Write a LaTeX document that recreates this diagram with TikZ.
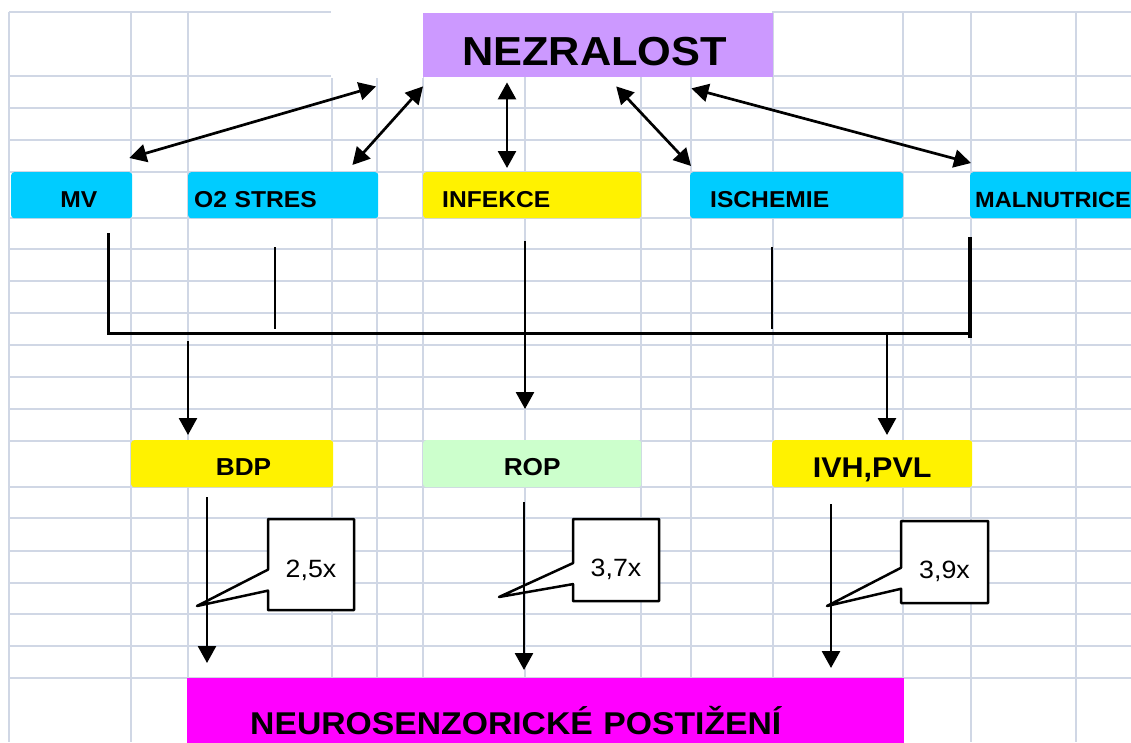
\documentclass[tikz,border=0pt]{standalone}
\usepackage{fontspec}
\setmainfont{Liberation Sans}[FakeStretch=1.07]
\usepackage{tikz}
\usetikzlibrary{arrows.meta,calc,positioning,shapes.callouts}
\definecolor{gridgray}{RGB}{208,215,229}
\definecolor{lavender}{RGB}{204,153,255}
\definecolor{skyblue}{RGB}{0,204,255}
\definecolor{palegreen}{RGB}{204,255,204}
\definecolor{brightmag}{RGB}{255,0,255}
\tikzset{%
	gridline/.style = {gridgray, line width=1.8pt},
	cellbox/.style  = {rectangle, rounded corners=3pt, inner sep=0pt, anchor=north west, minimum height=46pt, text depth=0pt},
	cause/.style    = {cellbox, font=\bfseries\fontsize{23}{23}\selectfont, text height=23.8pt},
	effect/.style   = {cellbox, minimum height=47pt, font=\bfseries\fontsize{24.5}{24.5}\selectfont, text height=23.9pt},
	note/.style     = {rectangle callout, draw, fill=white, line width=2.5pt, line join=round, callout pointer width=21pt, inner sep=0pt, minimum width=86pt, minimum height=91pt, text depth=0pt, text height=33pt, font=\fontsize{25}{25}\selectfont},
	link/.style     = {{Triangle[length=17pt,width=18pt]}-{Triangle[length=17pt,width=18pt]}, line width=2.7pt},
	flow/.style     = {-{Triangle[length=17pt,width=18pt]}, line width=2.7pt},
	bus/.style      = {line width=2.7pt},
}
\begin{document}
\begin{tikzpicture}[x=1pt,y=-1pt]
		\useasboundingbox (0,0) rectangle (1131,742);
		\foreach \gx in {9,131,188,332,377,423,525,641,691,773,903,971,1076}
			\draw[gridline] (\gx,12) -- (\gx,742);
		\foreach \gy in {12,76,108,140,172,218,249,281,313,345,377,409,441,487,518,551,583,614,646,678}
			\draw[gridline] (9,\gy) -- (1131,\gy);
		\fill[white] (331,0) rectangle (423,77.5);
		\fill[white] (423,0) rectangle (772,13);
		
		\node[cellbox, sharp corners, fill=lavender, minimum width=350pt, minimum height=64pt, align=left, inner xsep=39pt, text width=272pt, text height=39.9pt, font=\bfseries\fontsize{40.5}{40.5}\selectfont] (nezr) at (423,13) {NEZRALOST};
		
		\node[cause, fill=skyblue, minimum width=121pt, align=right, inner xsep=35pt, text width=51pt] (mv) at (11,172) {MV};
		\node[cause, fill=skyblue, minimum width=190pt, align=left, inner xsep=6pt, text width=178pt] (o2) at (188,172) {O2 STRES};
		\node[cause, fill=yellow, minimum width=218pt, align=left, inner xsep=19pt, text width=180pt] (inf) at (423,172) {INFEKCE};
		\node[cause, fill=skyblue, minimum width=213pt, align=left, inner xsep=20pt, text width=173pt] (isch) at (690,172) {ISCHEMIE};
		\node[cause, fill=skyblue, minimum width=200pt, align=left, inner xsep=5pt, text width=190pt, font=\bfseries\fontsize{22}{22}\selectfont] (maln) at (970,172) {MALNUTRICE};
		
		\node[effect, fill=yellow, minimum width=202pt, align=right, inner xsep=62pt, text width=78pt] (bdp) at (131,440) {BDP};
		\node[effect, fill=palegreen, minimum width=218pt] (rop) at (423,440) {ROP};
		\node[effect, fill=yellow, minimum width=200pt, text height=27.6pt, font=\bfseries\fontsize{28.5}{28.5}\selectfont] (ivh) at (772,440) {IVH,PVL};
		
		\node[cellbox, sharp corners, fill=brightmag, minimum width=717pt, minimum height=90pt, align=left, inner xsep=63pt, text width=591pt, text height=21.7pt, font=\bfseries\fontsize{31.5}{31.5}\selectfont] (neuro) at (187,678) {NEUROSENZORICKÉ POSTIŽENÍ};
		
		\draw[link] ($(nezr.south west)+(-47,9)$) -- ($(mv.north east)+(-3,-14)$);
		\draw[link] ($(nezr.south west)+(0,9)$) -- ($(o2.north east)+(-26,-7)$);
		\draw[link] ($(nezr.south west)+(84,5)$) -- ($(inf.north west)+(84,-4)$);
		\draw[link] ($(nezr.south)+(18,9)$) -- ($(isch.north west)+(1,-6)$);
		\draw[link] ($(nezr.south east)+(-82,11)$) -- ($(maln.north west)+(1,-9)$);
		
		\draw[bus] ($(mv.south east)+(-24,15)$) |- ($(maln.south west)+(0,115)$);
		\draw[bus] ($(o2.south west)+(87,29)$) -- ++(0,82);
		\draw[bus] ($(isch.south west)+(82,29)$) -- ++(0,82);
		\draw[line width=3.3pt] ($(maln.south west)+(0,19)$) -- ($(maln.south west)+(0,120)$);
		
		\draw[flow] ($(bdp.north west)+(57,-99)$) -- ($(bdp.north west)+(57,-5)$);
		\draw[flow] ($(inf.south west)+(102,23)$) -- ($(rop.north west)+(102,-31)$);
		\draw[flow] ($(ivh.north west)+(115,-107)$) -- ($(ivh.north west)+(115,-5)$);
		
		\coordinate (tipbdp) at (197,606);
		\coordinate (tiprop) at (499,597);
		\coordinate (tipivh) at (827,606);
		\node[note, text height=26pt, callout absolute pointer={(tipbdp)}] (nbdp) at (311,564.5) {2,5x};
		\node[note, minimum height=82pt, callout absolute pointer={(tiprop)}] (nrop) at (616,560) {3,7x};
		\node[note, minimum width=87pt, minimum height=82pt, callout absolute pointer={(tipivh)}] (nivh) at (944.5,562) {3,9x};
		
		\draw[flow] ($(bdp.south west)+(76,10)$) -- ($(neuro.north west)+(20,-15)$);
		\draw[flow] ($(rop.south west)+(101,15)$) -- ($(neuro.north west)+(337,-8)$);
		\draw[flow] ($(ivh.south west)+(59,17)$) -- ($(neuro.north west)+(644,-10)$);
		
\end{tikzpicture}
\end{document}
